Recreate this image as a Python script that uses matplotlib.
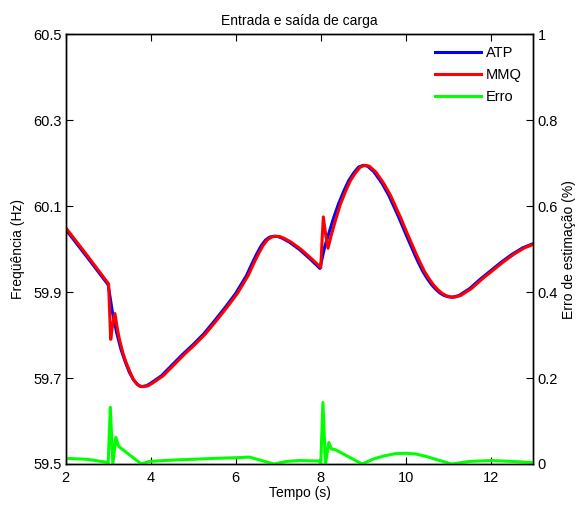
import matplotlib
matplotlib.use("Agg")
import matplotlib.pyplot as plt

plt.rcParams['font.family'] = ['Liberation Sans', 'DejaVu Sans']

# ATP (blue) frequency, Hz
atp_t = [2.0, 2.5, 3.0, 3.05, 3.1, 3.2, 3.3, 3.4, 3.5, 3.6, 3.7, 3.78, 3.9, 4.0,
         4.25, 4.5, 4.75, 5.0, 5.25, 5.5, 5.75, 6.0, 6.25, 6.4, 6.5, 6.6, 6.7,
         6.8, 6.9, 7.0, 7.1, 7.25, 7.5, 7.75, 7.98, 8.05, 8.1, 8.2, 8.3, 8.42,
         8.55, 8.66, 8.78, 8.89, 9.0, 9.1, 9.25, 9.44, 9.6, 9.83, 10.0, 10.22,
         10.3, 10.4, 10.5, 10.6, 10.7, 10.8, 10.9, 11.0, 11.1, 11.25, 11.5,
         11.75, 12.0, 12.25, 12.5, 12.75, 13.0]
atp_f = [60.046, 59.982, 59.917, 59.885, 59.853, 59.805, 59.767, 59.738, 59.713,
         59.695, 59.684, 59.680, 59.682, 59.688, 59.705, 59.730, 59.755, 59.778,
         59.803, 59.833, 59.864, 59.897, 59.938, 59.970, 59.990, 60.008, 60.021,
         60.028, 60.030, 60.029, 60.025, 60.017, 59.999, 59.977, 59.955, 59.987,
         60.008, 60.040, 60.072, 60.106, 60.137, 60.160, 60.178, 60.191, 60.195,
         60.193, 60.180, 60.153, 60.125, 60.075, 60.035, 59.985, 59.968, 59.948,
         59.932, 59.918, 59.907, 59.898, 59.892, 59.889, 59.888, 59.892, 59.908,
         59.930, 59.950, 59.970, 59.988, 60.003, 60.013]

# MMQ (red) frequency, Hz
mmq_t = [2.0, 2.5, 3.01, 3.035, 3.06, 3.1, 3.16, 3.22, 3.27, 3.35, 3.43, 3.51,
         3.58, 3.66, 3.74, 3.82, 3.94, 4.04, 4.29, 4.54, 4.79, 5.04, 5.29, 5.54,
         5.79, 6.04, 6.29, 6.44, 6.54, 6.64, 6.74, 6.84, 6.94, 7.04, 7.14, 7.29,
         7.54, 7.79, 8.0, 8.03, 8.06, 8.12, 8.17, 8.24, 8.34, 8.46, 8.59, 8.70,
         8.82, 8.93, 9.04, 9.14, 9.29, 9.48, 9.64, 9.87, 10.04, 10.26, 10.34,
         10.44, 10.54, 10.64, 10.74, 10.84, 10.94, 11.04, 11.14, 11.29, 11.54,
         11.79, 12.04, 12.29, 12.54, 12.79, 13.0]
mmq_f = [60.050, 59.986, 59.919, 59.850, 59.790, 59.822, 59.850, 59.812, 59.788,
         59.757, 59.734, 59.715, 59.699, 59.688, 59.681, 59.680, 59.682, 59.688,
         59.705, 59.730, 59.755, 59.778, 59.803, 59.833, 59.864, 59.897, 59.938,
         59.970, 59.990, 60.008, 60.021, 60.028, 60.030, 60.029, 60.025, 60.017,
         59.999, 59.977, 59.957, 60.020, 60.075, 60.030, 60.002, 60.030, 60.065,
         60.104, 60.136, 60.160, 60.178, 60.191, 60.195, 60.193, 60.180, 60.153,
         60.125, 60.075, 60.035, 59.985, 59.968, 59.948, 59.932, 59.918, 59.907,
         59.898, 59.892, 59.889, 59.888, 59.892, 59.908, 59.930, 59.950, 59.970,
         59.988, 60.003, 60.011]

# Estimation error, %
err_t = [2.0, 2.5, 2.96, 3.0, 3.05, 3.11, 3.18, 3.24, 3.31, 3.78, 3.97, 4.5,
         5.0, 5.5, 6.12, 6.32, 6.9, 7.2, 7.49, 7.96, 8.0, 8.05, 8.11, 8.19,
         8.25, 8.35, 8.97, 9.25, 9.5, 9.75, 10.0, 10.25, 10.5, 10.8, 11.08,
         11.5, 12.0, 12.5, 13.0]
err_v = [0.013, 0.011, 0.004, 0.0, 0.132, 0.0, 0.062, 0.042, 0.036, 0.0, 0.006,
         0.009, 0.011, 0.013, 0.015, 0.016, 0.0, 0.006, 0.008, 0.007, 0.0, 0.143,
         0.0, 0.050, 0.035, 0.033, 0.0, 0.012, 0.019, 0.024, 0.025, 0.023, 0.017,
         0.008, 0.0, 0.006, 0.008, 0.006, 0.003]

xticks = [2, 4, 6, 8, 10, 12]
yticks_left = [59.5, 59.7, 59.9, 60.1, 60.3, 60.5]
yticks_right = [0, 0.2, 0.4, 0.6, 0.8, 1]
yticklabels_right = ['0', '0.2', '0.4', '0.6', '0.8', '1']

fig = plt.figure(figsize=(5.76, 5.11), dpi=100)
ax = fig.add_axes([0.114, 0.092, 0.812, 0.841])
ax2 = ax.twinx()

l1, = ax.plot(atp_t, atp_f, color=(0, 0, 1), lw=2.2, label='ATP')
l2, = ax.plot(mmq_t, mmq_f, color=(1, 0, 0), lw=2.2, label='MMQ')
l3, = ax2.plot(err_t, err_v, color=(0, 1, 0), lw=2.2, label='Erro')

ax.set_xlim(2, 13)
ax.set_ylim(59.5, 60.5)
ax2.set_ylim(0, 1)
ax.set_xticks(xticks)
ax.set_xticklabels([str(v) for v in xticks])
ax.set_yticks(yticks_left)
ax.set_yticklabels(['%.1f' % v for v in yticks_left])
ax2.set_yticks(yticks_right)
ax2.set_yticklabels(yticklabels_right)

ax.tick_params(axis='x', direction='in', top=True, length=5, labelsize=10.5, pad=5)
ax.tick_params(axis='y', direction='in', length=5, labelsize=10.5, pad=3)
ax2.tick_params(axis='y', direction='in', length=5, labelsize=10.5, pad=3)
for a in (ax, ax2):
    for s in a.spines.values():
        s.set_linewidth(1.0)

ax.set_title('Entrada e saída de carga', fontsize=10, pad=7)
ax.set_xlabel('Tempo (s)', fontsize=10, labelpad=1)
ax.set_ylabel('Freqüência (Hz)', fontsize=10, labelpad=6)
ax2.set_ylabel('Erro de estimação (%)', fontsize=10, labelpad=3)

ax2.legend(handles=[l1, l2, l3], loc='upper right', frameon=False,
           fontsize=10.5, handlelength=3.2, handletextpad=0.3,
           labelspacing=0.55, borderaxespad=0.4)

fig.savefig('out.png', dpi=100)
